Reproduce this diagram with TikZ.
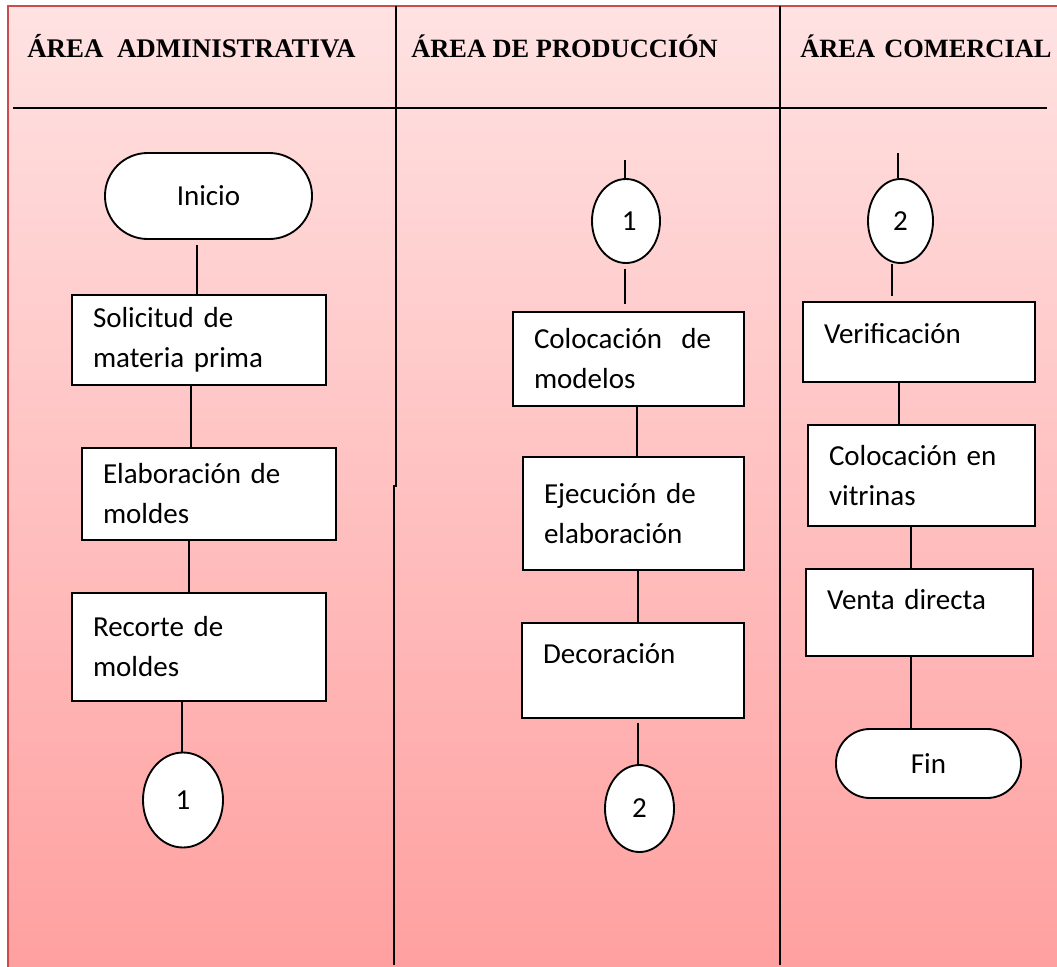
\documentclass[tikz,border=0pt]{standalone}
\usepackage{fontspec}
\setmainfont{Carlito}
\newfontfamily\hdrfont{Liberation Serif}
\usepackage{tikz}
\usetikzlibrary{shapes.geometric}
\definecolor{pinktop}{RGB}{255,226,226}
\definecolor{pinkbot}{RGB}{255,160,160}
\definecolor{framered}{RGB}{205,75,75}

\begin{document}
\begin{tikzpicture}[x=0.75pt,y=0.75pt,yscale=-1,xscale=1,
  every node/.style={font=\fontsize{21.75pt}{30pt}\selectfont},
  hdr/.style={anchor=base west,inner sep=0pt,font=\hdrfont\bfseries\fontsize{#1}{24pt}\selectfont},
  hdr/.default=19.8pt,
  stepbox/.style={draw,fill=white,line width=1.4pt,align=left,inner xsep=15.75pt,inner ysep=0pt},
  term/.style={draw,fill=white,line width=1.4pt,inner sep=0pt},
  conn/.style={draw,fill=white,ellipse,line width=1.4pt,inner sep=0pt},
  lane/.style={line width=1.4pt}]
\useasboundingbox (0,0) rectangle (1057,967);

%Shape: Background
\shade[top color=pinktop,bottom color=pinkbot] (8,6) rectangle (1057,967);
\draw[framered,line width=0.9pt] (8,967) -- (8,6) -- (1057,6);

%Straight Lines: lanes
\draw[lane] (13,108) -- (1047,108);
\draw[lane] (396,6) -- (396,486) -- (394,486) -- (394,965);
\draw[lane] (780,6) -- (780,965);

% Text Node
\node[hdr=20.2pt] (hadm) at (27,57) {ÁREA\ \ ADMINISTRATIVA};
% Text Node
\node[hdr] (hpro) at (411,57) {ÁREA DE PRODUCCIÓN};
% Text Node
\node[hdr] (hcom) at (800,57) {ÁREA\hspace{0.35em}COMERCIAL};

%Shape: Area administrativa
\node[term,rounded corners=32pt,minimum width=155.25pt,minimum height=64.5pt] (inicio) at (208.5,196) {Inicio};
\node[stepbox,text width=159pt,minimum height=67.5pt] (sol) at (199,340) {Solicitud de\\materia prima};
\node[stepbox,text width=159pt,minimum height=69pt] (ela) at (209,494) {Elaboración de\\moldes};
\node[stepbox,text width=159pt,minimum height=81pt] (rec) at (199,647) {Recorte de\\moldes};
\node[conn,minimum width=60pt,minimum height=71.25pt] (c1a) at (183,800) {1};

%Shape: Area de produccion
\coordinate (t1) at (625,160);
\node[conn,minimum width=51pt,minimum height=63pt] (c1b) at (626,221) {\ 1};
\node[stepbox,text width=141.75pt,minimum height=70.5pt] (col) at (628.5,359) {Colocación\ \ de\\modelos};
\node[stepbox,text width=134.25pt,minimum height=84.75pt] (eje) at (633.5,513.5) {Ejecución de\\elaboración};
\node[stepbox,text width=135pt,minimum height=71.25pt,text depth=25pt] (dec) at (633,670.5) {Decoración};
\node[conn,minimum width=51.75pt,minimum height=65.25pt] (c2b) at (639.5,808.5) {2};

%Shape: Area comercial
\coordinate (t2) at (898,153);
\node[conn,minimum width=48.75pt,minimum height=63pt] (c2c) at (900.5,221) {2};
\node[stepbox,text width=142.5pt,minimum height=60pt,text depth=13.5pt] (ver) at (919,342) {Verificación};
\node[stepbox,text width=138.75pt,minimum height=75.75pt] (vit) at (921.5,475.5) {Colocación en\\vitrinas};
\node[stepbox,text width=138.75pt,minimum height=65.25pt,text depth=20pt] (ven) at (919.5,612.5) {Venta directa};
\node[term,rounded corners=25.5pt,minimum width=138.75pt,minimum height=51.75pt] (fin) at (928.5,763.5) {Fin};

%Straight Lines: connectors
\draw[lane,shorten <=3.75pt] (inicio.south -| 197,0) -- (sol.north -| 197,0);
\draw[lane] (sol.south -| 191,0) -- (ela.north -| 191,0);
\draw[lane] (ela.south -| 189,0) -- (rec.north -| 189,0);
\draw[lane] (rec.south -| 182,0) -- (c1a.north -| 182,0);

\draw[lane] (t1) -- (c1b.north -| t1);
\draw[lane,shorten <=3.75pt,shorten >=5.25pt] (c1b.south -| t1) -- (col.north -| t1);
\draw[lane] (col.south -| 637,0) -- (eje.north -| 637,0);
\draw[lane] (eje.south -| 638,0) -- (dec.north -| 638,0);
\draw[lane,shorten <=3pt] (dec.south -| 638,0) -- (c2b.north -| 638,0);

\draw[lane] (t2) -- (c2c.north -| t2);
\draw[lane,shorten >=3.75pt] (c2c.south -| 892,0) -- (ver.north -| 892,0);
\draw[lane] (ver.south -| 899,0) -- (vit.north -| 899,0);
\draw[lane] (vit.south -| 911,0) -- (ven.north -| 911,0);
\draw[lane] (ven.south -| 911,0) -- (fin.north -| 911,0);
\end{tikzpicture}
\end{document}
